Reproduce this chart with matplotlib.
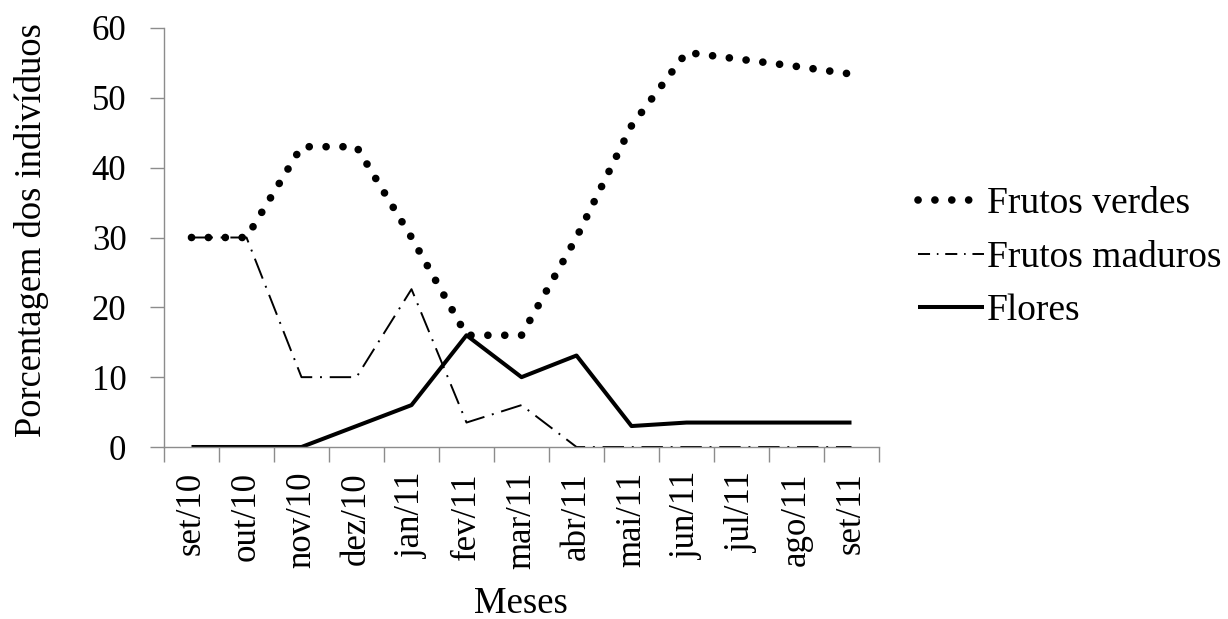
import numpy as np
import matplotlib.pyplot as plt
from matplotlib.lines import Line2D

plt.rcParams['font.family'] = ['Liberation Serif', 'DejaVu Serif']

# months and series (percentage of individuals)
meses = ['set/10', 'out/10', 'nov/10', 'dez/10', 'jan/11', 'fev/11', 'mar/11',
         'abr/11', 'mai/11', 'jun/11', 'jul/11', 'ago/11', 'set/11']
frutos_verdes = [30, 30, 43, 43, 30, 16, 16, 30, 46, 56.5, 55.5, 54.5, 53.4]
frutos_maduros = [30, 30, 10, 10, 22.6, 3.5, 6, 0, 0, 0, 0, 0, 0]
flores = [0, 0, 0, 3, 6, 16, 10, 13.1, 3, 3.5, 3.5, 3.5, 3.5]

fs = 27
gray = '#8c8c8c'

fig = plt.figure(figsize=(12.28, 6.19), dpi=100)
ax = fig.add_axes([164/1228, 1-447/619, (879-164)/1228, (447-28)/619])

x = np.arange(len(meses))
verde_style = dict(color='black', lw=5.5, linestyle=(0, (0.01, 2.2)),
                   dash_capstyle='round')
maduro_style = dict(color='black', lw=1.4, linestyle=(0, (11, 4, 1, 4)))
flor_style = dict(color='black', lw=2.9, solid_capstyle='butt')

ax.plot(x, frutos_maduros, **maduro_style)
ax.plot(x, flores, **flor_style)
ax.plot(x, frutos_verdes, **verde_style)

ax.set_xlim(-0.5, len(meses) - 0.5)
ax.set_ylim(0, 60)
ax.set_yticks(range(0, 61, 10))
ax.set_xticks(x)
ax.set_xticklabels(meses, rotation=90, fontsize=25)
ax.set_xticks(np.arange(-0.5, len(meses), 1), minor=True)
ax.tick_params(axis='x', which='major', length=0, pad=18)
ax.tick_params(axis='x', which='minor', length=11, color=gray, width=1)
ax.tick_params(axis='y', length=10, color=gray, width=1, labelsize=25, pad=17)

for s in ['top', 'right']:
    ax.spines[s].set_visible(False)
for s in ['left', 'bottom']:
    ax.spines[s].set_color(gray)
    ax.spines[s].set_linewidth(1)

fig.text(521/1228, 1-613/619, 'Meses', ha='center', va='baseline', fontsize=26.5)
fig.text(32/1228, 1-230/619, 'Porcentagem dos indivíduos', rotation=90,
         ha='center', va='center', fontsize=26.3)

handles = [Line2D([], [], **verde_style),
           Line2D([], [], color='black', lw=1.4, linestyle=(0, (6.2, 3.5, 0.8, 3.5))),
           Line2D([], [], **flor_style)]
fig.legend(handles, ['Frutos verdes', 'Frutos maduros', 'Flores'],
           loc='upper left', bbox_to_anchor=(918/1228, 1-187/619),
           frameon=False, fontsize=fs, handlelength=1.75, handletextpad=0.08,
           labelspacing=0.5, borderpad=0, borderaxespad=0)

fig.savefig('out.png', dpi=100)
